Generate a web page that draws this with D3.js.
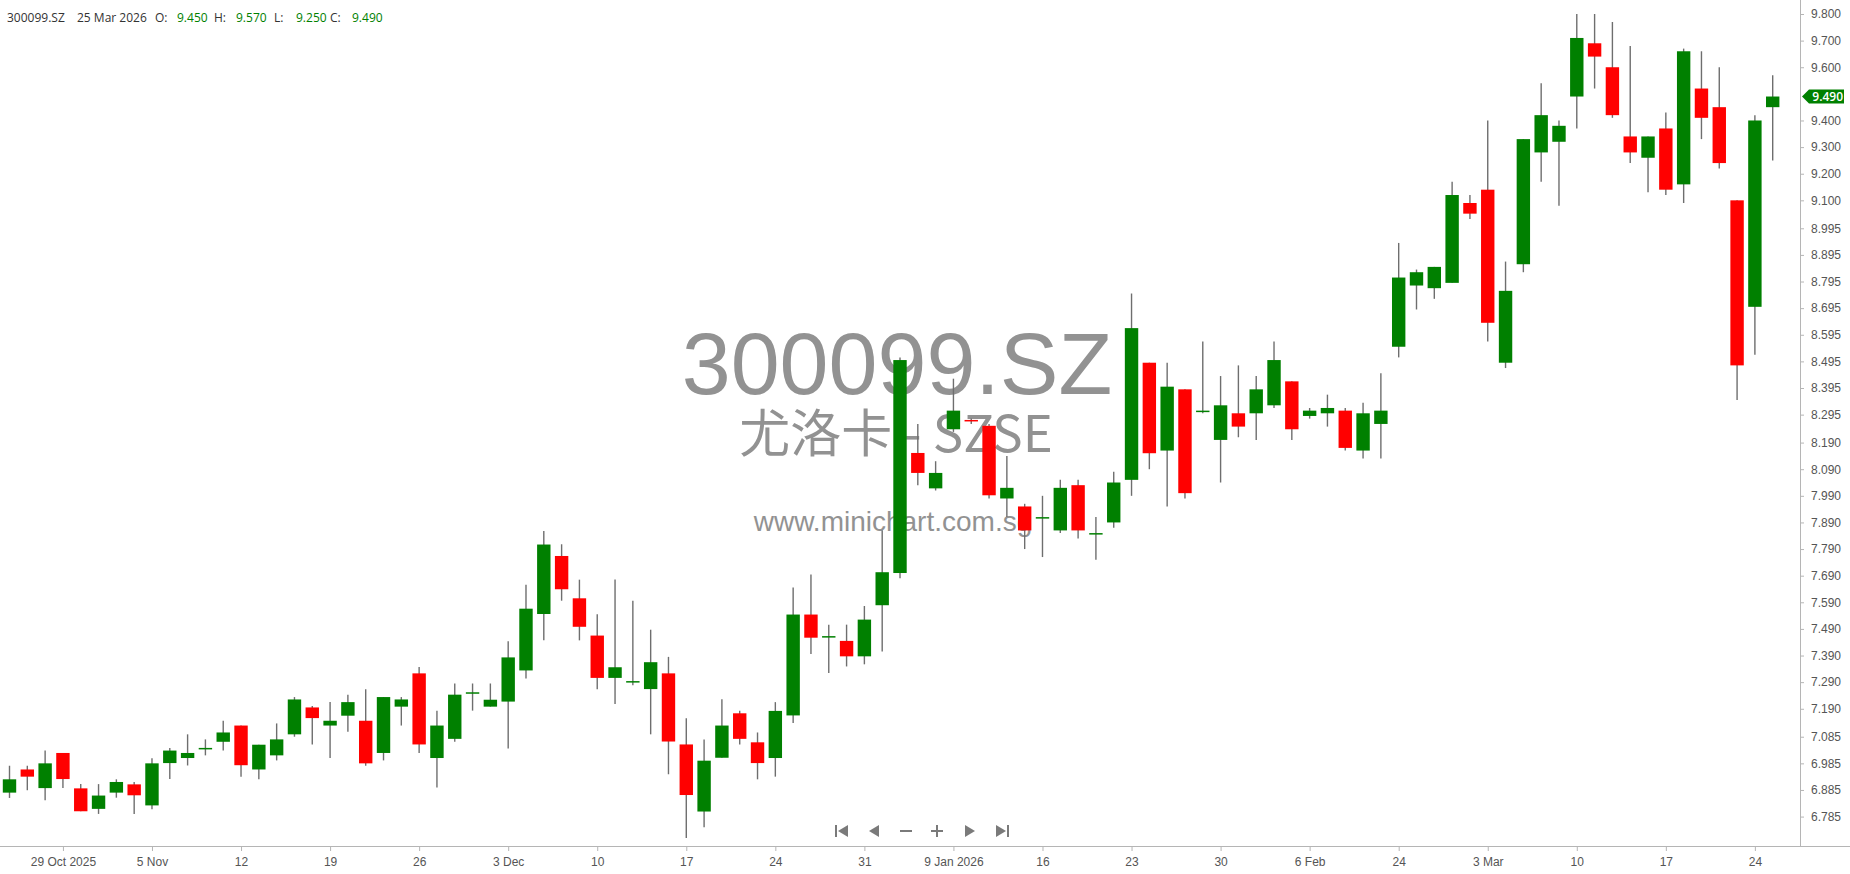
<!DOCTYPE html>
<html lang="en">
<head>
  <meta charset="UTF-8">
  <title>300099.SZ candlestick</title>
  <style>
    html, body { margin: 0; padding: 0; background: #fff; }
    svg { display: block; font-family: "Open Sans", sans-serif; }
    .axis text { fill: #555; font-size: 12px; }
    .axis line, .axis path { stroke: #b5b5b5; }
    .wick { stroke: #6e6e6e; stroke-width: 1.4px; }
    .mark { fill: #929292; font-family: "Liberation Sans", Arial, sans-serif; }
  </style>
</head>
<body>
  <svg width="1850" height="874"></svg>

  <script src="https://d3js.org/d3.v7.min.js"></script>
  <script>
    const dates = [
      "2025-10-24","2025-10-27","2025-10-28","2025-10-29","2025-10-30","2025-10-31",
      "2025-11-03","2025-11-04","2025-11-05","2025-11-06","2025-11-07","2025-11-10","2025-11-11","2025-11-12",
      "2025-11-13","2025-11-14","2025-11-17","2025-11-18","2025-11-19","2025-11-20","2025-11-21","2025-11-24",
      "2025-11-25","2025-11-26","2025-11-27","2025-11-28",
      "2025-12-01","2025-12-02","2025-12-03","2025-12-04","2025-12-05","2025-12-08","2025-12-09","2025-12-10",
      "2025-12-11","2025-12-12","2025-12-15","2025-12-16","2025-12-17","2025-12-18","2025-12-19","2025-12-22",
      "2025-12-23","2025-12-24","2025-12-25","2025-12-26","2025-12-29","2025-12-30","2025-12-31",
      "2026-01-05","2026-01-06","2026-01-07","2026-01-08","2026-01-09","2026-01-12","2026-01-13","2026-01-14",
      "2026-01-15","2026-01-16","2026-01-19","2026-01-20","2026-01-21","2026-01-22","2026-01-23","2026-01-26",
      "2026-01-27","2026-01-28","2026-01-29","2026-01-30",
      "2026-02-02","2026-02-03","2026-02-04","2026-02-05","2026-02-06","2026-02-09","2026-02-10","2026-02-11",
      "2026-02-12","2026-02-24","2026-02-25","2026-02-26","2026-02-27",
      "2026-03-02","2026-03-03","2026-03-04","2026-03-05","2026-03-06","2026-03-09","2026-03-10","2026-03-11",
      "2026-03-12","2026-03-13","2026-03-16","2026-03-17","2026-03-18","2026-03-19","2026-03-20","2026-03-23",
      "2026-03-24","2026-03-25"
    ];

    const open = [
      6.875,6.962,6.892,7.024,6.891,6.814,6.875,6.906,6.827,6.986,
      7.005,7.040,7.066,7.127,6.962,7.015,7.094,7.195,7.127,7.164,
      7.145,7.024,7.198,7.323,7.005,7.077,7.247,7.198,7.217,7.334,
      7.546,7.764,7.605,7.465,7.306,7.290,7.264,7.323,7.056,6.804,
      7.006,7.173,7.064,7.005,7.165,7.544,7.459,7.445,7.387,7.579,
      7.700,8.151,8.018,8.240,8.275,8.253,7.980,7.950,7.905,7.860,
      8.030,7.845,7.890,8.050,8.490,8.160,8.390,8.305,8.200,8.300,
      8.300,8.330,8.420,8.290,8.300,8.310,8.160,8.260,8.550,8.780,
      8.770,8.790,9.090,9.140,8.490,8.860,9.280,9.320,9.490,9.690,
      9.600,9.340,9.260,9.370,9.160,9.520,9.450,9.100,8.700,9.450
    ];
    const high = [
      6.976,6.976,7.033,7.024,6.907,6.907,6.925,6.915,7.004,7.043,
      7.094,7.075,7.145,7.127,7.055,7.135,7.234,7.200,7.215,7.243,
      7.263,7.234,7.234,7.347,7.183,7.285,7.285,7.285,7.444,7.656,
      7.858,7.808,7.675,7.545,7.676,7.596,7.487,7.385,7.154,7.075,
      7.226,7.183,7.101,7.215,7.646,7.694,7.506,7.506,7.576,7.861,
      8.510,8.260,8.120,8.430,8.280,8.260,8.140,7.960,7.990,8.050,
      8.050,7.910,8.080,8.750,8.490,8.490,8.390,8.570,8.440,8.480,
      8.440,8.570,8.420,8.320,8.370,8.320,8.340,8.450,8.940,8.840,
      8.850,9.170,9.120,9.400,8.870,9.330,9.540,9.400,9.800,9.800,
      9.770,9.680,9.340,9.430,9.670,9.660,9.600,9.100,9.420,9.570
    ];
    const low = [
      6.855,6.884,6.846,6.892,6.805,6.795,6.856,6.795,6.813,6.926,
      6.977,7.015,7.033,6.935,6.925,6.996,7.085,7.056,7.005,7.104,
      6.976,6.996,7.127,7.024,6.894,7.066,7.183,7.198,7.041,7.304,
      7.447,7.596,7.447,7.263,7.208,7.278,7.094,6.944,6.705,6.745,
      7.006,7.056,6.925,6.935,7.137,7.396,7.324,7.349,7.357,7.405,
      7.680,8.030,8.010,8.230,8.260,7.980,7.910,7.790,7.760,7.850,
      7.830,7.750,7.870,7.990,8.090,7.950,7.980,8.300,8.040,8.210,
      8.200,8.320,8.200,8.280,8.250,8.160,8.130,8.130,8.510,8.690,
      8.730,8.790,9.030,8.570,8.470,8.830,9.170,9.080,9.370,9.520,
      9.410,9.240,9.130,9.120,9.090,9.330,9.220,8.350,8.520,9.250
    ];
    const close = [
      6.925,6.935,6.985,6.926,6.805,6.864,6.915,6.865,6.985,7.033,
      7.024,7.043,7.101,6.978,7.055,7.075,7.225,7.155,7.145,7.215,
      6.985,7.234,7.225,7.056,7.127,7.243,7.252,7.224,7.383,7.566,
      7.807,7.639,7.498,7.306,7.346,7.294,7.365,7.067,6.866,6.995,
      7.127,7.077,6.986,7.182,7.544,7.457,7.463,7.387,7.525,7.703,
      8.500,8.076,8.076,8.310,8.270,7.992,8.020,7.860,7.910,8.020,
      7.860,7.850,8.040,8.620,8.150,8.400,8.000,8.310,8.330,8.250,
      8.390,8.500,8.240,8.310,8.320,8.170,8.300,8.310,8.810,8.830,
      8.850,9.120,9.050,8.640,8.760,9.330,9.420,9.380,9.710,9.640,
      9.420,9.280,9.340,9.140,9.660,9.410,9.240,8.480,9.400,9.490
    ];

    const xTickIndex = [3,8,13,18,23,28,33,38,43,48,53,58,63,68,73,78,83,88,93,98];
    const xTickLabels = ["29 Oct 2025","5 Nov","12","19","26","3 Dec","10","17","24","31",
                         "9 Jan 2026","16","23","30","6 Feb","24","3 Mar","10","17","24"];
    // 9.500 sits under the last-price tag, so it is left out
    const yTicks = [9.8,9.7,9.6,9.4,9.3,9.2,9.1,8.995,8.895,8.795,8.695,8.595,8.495,8.395,
                    8.295,8.19,8.09,7.99,7.89,7.79,7.69,7.59,7.49,7.39,7.29,7.19,7.085,6.985,6.885,6.785];

    const symbol = "300099.SZ", company = "尤洛卡 - SZSE", site = "www.minichart.com.sg";

    const svg = d3.select("svg"),
          width = +svg.attr("width"),
          height = +svg.attr("height");
    const plotRight = 1800, plotBottom = 846;

    const x = d3.scaleLinear().domain([0, dates.length - 1]).range([9.5, 1772.7]);
    const y = d3.scaleLinear().domain([6.6745, 9.8526]).range([plotBottom, 0]);
    const fmt = d3.format(".3f");
    const up = "#008000", down = "#ff0000";

    // watermark behind the candles
    const wm = svg.append("g").attr("class", "watermark");
    wm.append("text").attr("class", "mark")
      .attr("x", 897).attr("y", 394).attr("text-anchor", "middle")
      .style("font-size", "88px").text(symbol);
    wm.append("text").attr("class", "mark")
      .attr("x", 896).attr("y", 452).attr("text-anchor", "middle")
      .style("font-size", "51px").style("font-family", "'Noto Sans CJK SC', sans-serif")
      .text(company);
    wm.append("text").attr("class", "mark")
      .attr("x", 893).attr("y", 531).attr("text-anchor", "middle")
      .style("font-size", "28px").text(site);

    // axes
    const yAxis = svg.append("g").attr("class", "axis")
      .attr("transform", `translate(${plotRight},0)`)
      .call(d3.axisRight(y).tickValues(yTicks).tickFormat(fmt).tickSize(4).tickSizeOuter(0).tickPadding(7));
    yAxis.select(".domain").remove();

    const xAxis = svg.append("g").attr("class", "axis")
      .attr("transform", `translate(0,${plotBottom})`)
      .call(d3.axisBottom(x).tickValues(xTickIndex).tickFormat((d, k) => xTickLabels[k]).tickSize(5).tickPadding(6));
    xAxis.select(".domain").remove();

    svg.append("line").attr("x1", 0).attr("x2", width).attr("y1", plotBottom + 0.5).attr("y2", plotBottom + 0.5)
      .attr("stroke", "#b5b5b5");
    svg.append("line").attr("x1", plotRight + 0.5).attr("x2", plotRight + 0.5).attr("y1", 0).attr("y2", plotBottom)
      .attr("stroke", "#b5b5b5");

    // candles
    const bw = 13.4;
    const candles = svg.append("g").selectAll("g")
      .data(dates.map((d, i) => ({ i, o: open[i], h: high[i], l: low[i], c: close[i] })))
      .join("g");

    candles.append("line").attr("class", "wick")
      .attr("x1", d => x(d.i)).attr("x2", d => x(d.i))
      .attr("y1", d => y(d.h)).attr("y2", d => y(d.l));

    candles.append("rect")
      .attr("x", d => x(d.i) - bw / 2)
      .attr("width", bw)
      .attr("y", d => y(Math.max(d.o, d.c)))
      .attr("height", d => Math.max(1.5, Math.abs(y(d.o) - y(d.c))))
      .attr("fill", d => d.c >= d.o ? up : down);

    // last price tag
    const last = dates.length - 1;
    const ty = y(close[last]);
    svg.append("path")
      .attr("d", `M${plotRight + 2},${ty} L${plotRight + 9},${ty - 7} L1844,${ty - 7} L1844,${ty + 7} L${plotRight + 9},${ty + 7} Z`)
      .attr("fill", up);
    svg.append("text").attr("x", 1843).attr("y", ty + 4.5).attr("text-anchor", "end")
      .attr("fill", "#fff").style("font-size", "12px").style("font-weight", "600").text(fmt(close[last]));

    // header
    const head = svg.append("text").attr("x", 7).attr("y", 22).style("font-size", "12px").attr("fill", "#333");
    const lastDate = d3.timeFormat("%-d %b %Y")(d3.timeParse("%Y-%m-%d")(dates[last]));
    head.append("tspan").text(symbol);
    head.append("tspan").attr("x", 77).text(lastDate);
    [["O:", open[last], 155], ["H:", high[last], 214], ["L:", low[last], 274], ["C:", close[last], 330]]
      .forEach(([lab, v, px]) => {
        head.append("tspan").attr("x", px).text(lab);
        head.append("tspan").attr("x", px + 22).attr("fill", up).text(fmt(v));
      });

    // navigation buttons
    const nav = svg.append("g").attr("fill", "#7a7a7a").attr("stroke", "#7a7a7a");
    const ny = 831;
    nav.append("path").attr("d", `M836,${ny - 6}v12`).attr("stroke-width", 2);
    nav.append("path").attr("d", `M848,${ny - 6}L838,${ny}L848,${ny + 6}Z`).attr("stroke", "none");
    nav.append("path").attr("d", `M879,${ny - 6}L869,${ny}L879,${ny + 6}Z`).attr("stroke", "none");
    nav.append("path").attr("d", `M900,${ny}h12`).attr("stroke-width", 2);
    nav.append("path").attr("d", `M931,${ny}h12M937,${ny - 6}v12`).attr("stroke-width", 2);
    nav.append("path").attr("d", `M965,${ny - 6}L975,${ny}L965,${ny + 6}Z`).attr("stroke", "none");
    nav.append("path").attr("d", `M996,${ny - 6}L1006,${ny}L996,${ny + 6}Z`).attr("stroke", "none");
    nav.append("path").attr("d", `M1008,${ny - 6}v12`).attr("stroke-width", 2);
  </script>
</body>
</html>
